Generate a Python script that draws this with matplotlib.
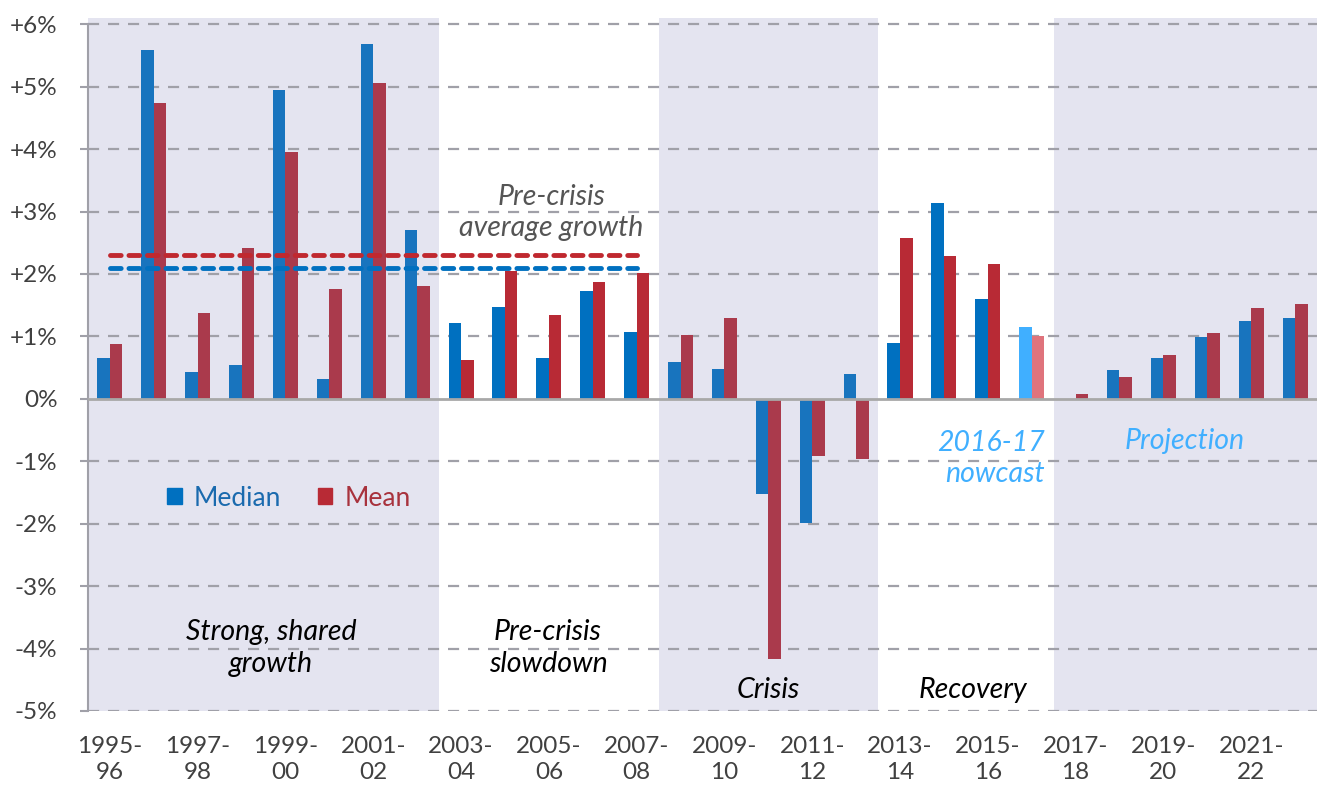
import numpy as np
import matplotlib.pyplot as plt
from matplotlib.patches import Patch

plt.rcParams['font.family'] = ['Lato', 'DejaVu Sans']

# Financial years 1995-96 .. 2022-23
years = [f"{y}-{str(y + 1)[-2:]}" for y in range(1995, 2023)]
median = [0.66, 5.59, 0.43, 0.54, 4.95, 0.32, 5.68, 2.71,
          1.22, 1.47, 0.66, 1.73, 1.07,
          0.59, 0.48, -1.52, -1.99, 0.40,
          0.90, 3.14, 1.60, 1.15,
          -0.02, 0.46, 0.66, 0.99, 1.25, 1.30]
mean = [0.88, 4.74, 1.38, 2.42, 3.96, 1.76, 5.06, 1.81,
        0.62, 2.05, 1.35, 1.87, 2.02,
        1.02, 1.30, -4.16, -0.91, -0.96,
        2.58, 2.29, 2.16, 1.01,
        0.07, 0.35, 0.70, 1.06, 1.46, 1.52]
precrisis_avg_median = 2.09
precrisis_avg_mean = 2.30

# shaded periods (first, last index)
shaded = [(0, 7), (13, 17), (22, 27)]
nowcast_idx = 21

blue, red = '#0070C0', '#B82A35'
blue_s, red_s = '#1874BE', '#AA3A4C'
blue_n, red_n = '#40AFFF', '#DF737C'
grey = '#A0A0A8'
txt = '#404040'

fig = plt.figure(figsize=(13.17, 7.87), dpi=100)
ax = fig.add_axes([0.0668, 0.0966, 0.9332, 0.8805])

x = np.arange(len(years))
ax.set_xlim(-0.5, len(years) - 0.5)
ax.set_ylim(-5, 6.1)

for a, b in shaded:
    ax.axvspan(a - 0.5, b + 0.5, color='#E4E4F0', lw=0, zorder=0)

def in_shade(i):
    return any(a <= i <= b for a, b in shaded)

cm = [blue_n if i == nowcast_idx else (blue_s if in_shade(i) else blue) for i in x]
cr = [red_n if i == nowcast_idx else (red_s if in_shade(i) else red) for i in x]

w = 0.285
ax.bar(x - w / 2, median, w, color=cm, zorder=3)
ax.bar(x + w / 2, mean, w, color=cr, zorder=3)

# gridlines
for v in range(-5, 7):
    if v == 0:
        continue
    ax.axhline(v, color=grey, lw=1.6, dashes=(5, 4), zorder=1)
ax.axhline(0, color='#A8A8A8', lw=2, zorder=4)

# pre-crisis averages
ax.hlines(precrisis_avg_mean, 0, 12, color='#C0282F', lw=3.5, linestyles=(0, (2.2, 1.6)),
          capstyle='round', zorder=5)
ax.hlines(precrisis_avg_median, 0, 12, color='#0070C0', lw=3.5, linestyles=(0, (2.2, 1.6)),
          capstyle='round', zorder=5)

fs = 20.5
ax.text(10.05, 2.98, 'Pre-crisis\naverage growth', ha='center', va='center',
        style='italic', fontsize=fs, color='#555555', linespacing=1.25)

# period labels
ax.text(3.67, -3.99, 'Strong, shared\ngrowth', ha='center', va='center', style='italic',
        fontsize=fs, color='black', linespacing=1.25)
ax.text(9.98, -3.99, 'Pre-crisis\nslowdown', ha='center', va='center', style='italic',
        fontsize=fs, color='black', linespacing=1.25)
ax.text(15.0, -4.66, 'Crisis', ha='center', va='center', style='italic',
        fontsize=fs, color='black')
ax.text(19.66, -4.66, 'Recovery', ha='center', va='center', style='italic',
        fontsize=fs, color='black')
ax.text(21.3, -0.96, '2016-17\nnowcast', ha='right', va='center',
        style='italic', fontsize=fs, color=blue_n, linespacing=1.25)
ax.text(24.49, -0.67, 'Projection', ha='center', va='center', style='italic',
        fontsize=fs, color=blue_n)

# legend
handles = [Patch(color=blue, label='Median'), Patch(color=red, label='Mean')]
leg = ax.legend(handles=handles, loc='center left', bbox_to_anchor=(0.045, 0.307),
                ncol=2, frameon=False, fontsize=19, handlelength=0.55, handleheight=0.55,
                handletextpad=0.45, columnspacing=1.4)
for t, c in zip(leg.get_texts(), ['#1A6AAE', '#A8323D']):
    t.set_color(c)

# axes styling
ax.set_yticks(range(-5, 7))
ax.set_yticklabels([f"+{v}%" if v > 0 else f"{v}%" for v in range(-5, 7)])
ax.set_xticks(x[::2])
ax.set_xticklabels([y.replace('-', '-\n') for y in years[::2]])
ax.tick_params(axis='y', colors=grey, labelcolor=txt, labelsize=17.5, length=6, width=1.5, pad=16)
ax.tick_params(axis='x', length=0, labelcolor=txt, labelsize=17.5, pad=18)
for lab in ax.get_xticklabels():
    lab.set_linespacing(1.3)
for lab in ax.get_yticklabels():
    lab.set_horizontalalignment('right')
for s in ['top', 'right', 'bottom']:
    ax.spines[s].set_visible(False)
ax.spines['left'].set_color(grey)
ax.spines['left'].set_linewidth(1.5)
ax.spines['left'].set_bounds(-5, 6)
ax.set_facecolor('white')

fig.savefig('out.png', dpi=100)
